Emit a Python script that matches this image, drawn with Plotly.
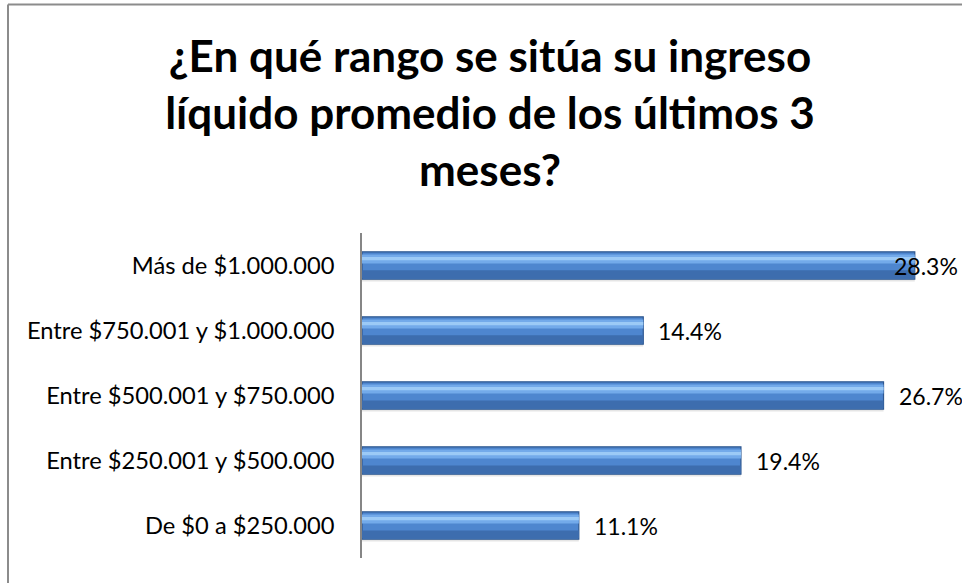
import plotly.graph_objects as go

# ---- data ----
categories = [
    "De $0 a $250.000",
    "Entre $250.001 y $500.000",
    "Entre $500.001 y $750.000",
    "Entre $750.001 y $1.000.000",
    "Más de $1.000.000",
]
values = [11.1, 19.4, 26.7, 14.4, 28.3]
value_labels = ["11.1%", "19.4%", "26.7%", "14.4%", "28.3%"]
title_text = "¿En qué rango se sitúa su ingreso<br>líquido promedio de los últimos 3<br>meses?"

# ---- layout geometry ----
W, H = 962, 583
ML, MR, MT, MB = 362, 14, 233, 25
XMAX = 30
FONT = "Lato, 'Open Sans', sans-serif"

fig = go.Figure()

def bar_layer(offset, width, color, line_color=None, line_width=0):
    fig.add_trace(go.Bar(
        y=categories, x=values, orientation="h",
        width=width, offset=offset,
        marker=dict(color=color,
                    line=dict(color=line_color or color, width=line_width)),
        hoverinfo="skip", showlegend=False,
    ))

# soft shadow under bars
bar_layer(-0.245, 0.06, "rgba(0,0,0,0.10)")
# base bar with dark border
bar_layer(-0.21, 0.42, "#4E86CF", "#2F5890", 1.2)
# darker lower band
bar_layer(-0.195, 0.12, "#3D6DAE")
# light upper band
bar_layer(0.03, 0.14, "#73AAEA")
# bright highlight
bar_layer(0.08, 0.05, "#9CCAF6")

# data labels
plot_w = W - ML - MR
LABEL_FONT = dict(family=FONT, size=23, color="#000000")
for cat, v, lab in zip(categories, values, value_labels):
    px_end = v / XMAX * plot_w
    if px_end + 13 + 63 > plot_w + MR:
        fig.add_annotation(x=1, xref="paper", y=cat, yref="y", text=lab,
                           showarrow=False, xanchor="right", xshift=MR - 2,
                           font=LABEL_FONT)
    else:
        fig.add_annotation(x=v, xref="x", y=cat, yref="y", text=lab,
                           showarrow=False, xanchor="left", xshift=13,
                           font=LABEL_FONT)

# outer chart border (only top and left are visible in the reference)
plot_h = H - MT - MB
def px_to_paper_x(px):
    return (px - ML) / plot_w
def px_to_paper_y(py):
    return 1 + (MT - py) / plot_h
border = dict(color="#8C8C8C", width=2)
fig.add_shape(type="line", xref="paper", yref="paper",
              x0=px_to_paper_x(8), x1=px_to_paper_x(W),
              y0=px_to_paper_y(4.5), y1=px_to_paper_y(4.5),
              line=border, layer="below")
fig.add_shape(type="line", xref="paper", yref="paper",
              x0=px_to_paper_x(8), x1=px_to_paper_x(8),
              y0=px_to_paper_y(4.5), y1=px_to_paper_y(H),
              line=border, layer="below")

fig.update_layout(
    width=W, height=H,
    margin=dict(l=ML, r=MR, t=MT, b=MB, pad=0),
    paper_bgcolor="white", plot_bgcolor="white",
    barmode="overlay",
    title=dict(text=title_text, x=490 / W, xanchor="center", xref="container",
               y=1 - 72 / H, yanchor="top", yref="container",
               font=dict(family=FONT, size=44, color="#000000", weight="bold")),
    xaxis=dict(range=[0, XMAX], showgrid=False, zeroline=False,
               showticklabels=False, showline=False, ticks=""),
    yaxis=dict(showgrid=False, zeroline=False, showline=True,
               linecolor="#868686", linewidth=1.5, ticks="",
               ticklabelstandoff=21,
               tickfont=dict(family=FONT, size=23.7, color="#000000"),
               categoryorder="array", categoryarray=categories),
    font=dict(family=FONT),
)

fig.write_html(
    "out.html",
    config={"displayModeBar": False},
    post_script="document.body.style.margin='0';document.body.style.overflow='hidden';",
)
